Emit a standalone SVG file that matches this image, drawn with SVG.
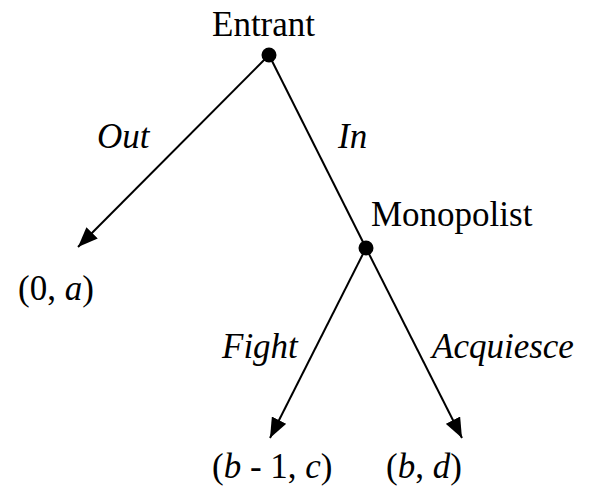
<svg xmlns="http://www.w3.org/2000/svg" width="592" height="498" viewBox="0 0 592 498">
<defs>
<marker id="ah" markerWidth="20" markerHeight="16" refX="20" refY="8" orient="auto" markerUnits="userSpaceOnUse">
<path d="M0,0 L20,8 L0,16 Z" fill="#000"/>
</marker>
</defs>
<rect width="592" height="498" fill="#fff"/>
<g id="connectors">
<line stroke="#000" stroke-width="2" x1="269" y1="55" x2="78" y2="247" marker-end="url(#ah)"/>
<line stroke="#000" stroke-width="2" x1="269" y1="55" x2="366" y2="248"/>
<line stroke="#000" stroke-width="2" x1="366" y1="248" x2="270" y2="438" marker-end="url(#ah)"/>
<line stroke="#000" stroke-width="2" x1="366" y1="248" x2="462" y2="438" marker-end="url(#ah)"/>
</g>
<g id="entrant"><circle fill="#000" cx="269" cy="55" r="7.5"/><text style="font-family:'Liberation Serif';font-size:35px" x="212" y="36">Entrant</text></g>
<g id="monopolist"><circle fill="#000" cx="366" cy="248" r="7.5"/><text style="font-family:'Liberation Serif';font-size:35px" x="371" y="226">Monopolist</text></g>
<g id="out-label"><text style="font-family:'Liberation Serif';font-size:35px;font-style:italic" x="97" y="148">Out</text></g>
<g id="in-label"><text style="font-family:'Liberation Serif';font-size:35px;font-style:italic" x="338" y="148">In</text></g>
<g id="fight-label"><text style="font-family:'Liberation Serif';font-size:35px;font-style:italic" x="222" y="358">Fight</text></g>
<g id="acq-label"><text style="font-family:'Liberation Serif';font-size:35px;font-style:italic" x="432" y="358">Acquiesce</text></g>
<g id="payoff-out"><text style="font-family:'Liberation Serif';font-size:35px" x="18" y="300">(0, <tspan style="font-style:italic">a</tspan>)</text></g>
<g id="payoff-fight"><text style="font-family:'Liberation Serif';font-size:35px" x="212" y="478">(<tspan style="font-style:italic">b</tspan> - 1, <tspan style="font-style:italic">c</tspan>)</text></g>
<g id="payoff-acq"><text style="font-family:'Liberation Serif';font-size:35px" x="386" y="478">(<tspan style="font-style:italic">b</tspan>, <tspan style="font-style:italic">d</tspan>)</text></g>
</svg>
